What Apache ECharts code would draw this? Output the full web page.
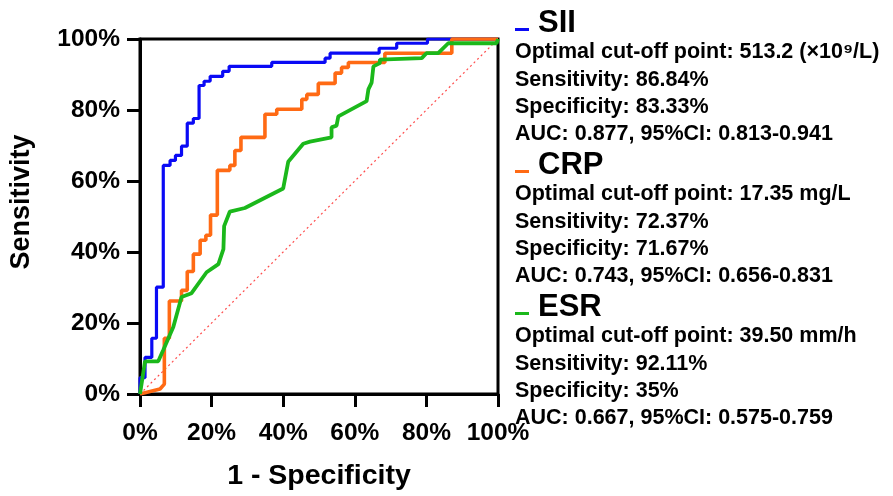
<!DOCTYPE html>
<html>
<head>
<meta charset="utf-8">
<script src="https://cdn.jsdelivr.net/npm/echarts@6/dist/echarts.min.js"></script>
<style>
  html, body { margin: 0; padding: 0; background: #fff; }
  #chart { width: 893px; height: 496px; }
</style>
</head>
<body>
<div id="chart"></div>
<script>
// ROC 曲线数据: [1 - 特异度(%), 灵敏度(%)]
const siiPts = [[0,0],[0,4.6],[1.4,4.6],[1.4,10.3],[3.3,10.3],[3.3,15.7],[4.6,15.7],[4.6,30.1],[6.5,30.1],[6.5,64.4],[8.4,64.4],[8.4,65.8],[9.9,65.8],[9.9,67.2],[11.6,67.2],[11.6,69.8],[13.2,69.8],[13.2,76.3],[14.9,76.3],[14.9,77.6],[16.5,77.6],[16.5,86.9],[17.9,86.9],[17.9,88.1],[19.6,88.1],[19.6,89.5],[23.1,89.5],[23.1,90.9],[24.9,90.9],[24.9,92.3],[36.8,92.3],[36.8,93.4],[51.7,93.4],[51.7,94.6],[53.1,94.6],[53.1,96],[66.8,96],[66.8,97.4],[71.7,97.4],[71.7,98.8],[80.3,98.8],[80.3,100],[100,100]];
const crpPts = [[0,0],[5.6,1.4],[6.8,2.8],[6.8,15.7],[8.2,15.7],[8.2,26.2],[11.6,26.2],[11.6,29.2],[13.2,29.2],[13.2,34.5],[14.9,34.5],[14.9,39.4],[16.8,39.4],[16.8,43.3],[18.4,43.3],[18.4,44.7],[19.7,44.7],[19.7,50.4],[21.6,50.4],[21.6,63],[25.1,63],[25.1,64.4],[26.5,64.4],[26.5,68.6],[28.2,68.6],[28.2,72.3],[34.9,72.3],[34.9,78.8],[38.2,78.8],[38.2,80.2],[45.2,80.2],[45.2,83],[46.6,83],[46.6,84.4],[49.8,84.4],[49.8,87.5],[54.5,87.5],[54.5,90.4],[56.3,90.4],[56.3,92],[58.2,92],[58.2,93.4],[68.4,93.4],[68.4,96],[87.1,96],[87.1,100],[100,100]];
const esrPts = [[0,0],[1.4,9.2],[5.1,9.2],[6.5,12.4],[9.3,18.9],[11.6,27.3],[14.4,28.4],[18.6,34.3],[21.9,36.6],[23.3,40.8],[23.5,47.3],[25.1,51.4],[29.3,52.4],[40,57.9],[41.4,65.4],[45.6,70.5],[47.5,71.1],[53.5,72.3],[53.5,75.1],[54.9,75.6],[55.4,78.2],[63.3,82.5],[63.8,85.8],[64.7,87.7],[65.2,92.3],[67,93.2],[67,94.2],[78.7,94.6],[80,96],[83.3,96],[86.1,98.8],[99.6,98.8],[100,100]];
const refPts = [[0,0],[100,100]];

// 坐标轴刻度
const axisTicks = [0, 20, 40, 60, 80, 100];

// 右侧说明文字
const siiNotes = ['Optimal cut-off point: 513.2 (×10⁹/L)', 'Sensitivity: 86.84%', 'Specificity: 83.33%', 'AUC: 0.877, 95%CI: 0.813-0.941'];
const crpNotes = ['Optimal cut-off point: 17.35 mg/L', 'Sensitivity: 72.37%', 'Specificity: 71.67%', 'AUC: 0.743, 95%CI: 0.656-0.831'];
const esrNotes = ['Optimal cut-off point: 39.50 mm/h', 'Sensitivity: 92.11%', 'Specificity: 35%', 'AUC: 0.667, 95%CI: 0.575-0.759'];

const FONT = '"Liberation Sans", Arial, sans-serif';
const colors = { sii: '#0a0af5', crp: '#ff6a14', esr: '#1bb81b' };

/* 生成右侧一组说明 */
function noteBlock(title, color, notes, top) {
    const items = [
        {
            type: 'rect',
            shape: { x: 515, y: top + 5, width: 14, height: 3 },
            style: { fill: color }
        },
        {
            type: 'text',
            style: {
                x: 538, y: top, text: title, fill: '#000',
                font: 'bold 31px ' + FONT, verticalAlign: 'middle'
            }
        }
    ];
    const lineY = [29, 57, 84, 111];
    notes.forEach((t, i) => {
        items.push({
            type: 'text',
            style: {
                x: 515, y: top + lineY[i], text: t, fill: '#000',
                font: 'bold 21.5px ' + FONT, verticalAlign: 'middle'
            }
        });
    });
    return items;
}

const chartDom = document.getElementById('chart');
const chartObj = echarts.init(chartDom, null, { renderer: 'canvas' });

const axisCommon = {
    type: 'value',
    min: axisTicks[0],
    max: axisTicks[axisTicks.length - 1],
    interval: 20,
    splitLine: { show: false },
    axisLine: { show: true, onZero: false, lineStyle: { color: '#000', width: 3 } },
    axisTick: { show: true, length: 13, lineStyle: { color: '#000', width: 3 } },
    axisLabel: {
        color: '#000',
        fontFamily: FONT,
        fontWeight: 'bold',
        fontSize: 24.5,
        formatter: '{value}%'
    }
};

const option = {
    animation: false,
    backgroundColor: '#fff',
    grid: {
        left: 140,
        right: 395,
        top: 39,
        bottom: 98,
        show: true,
        borderColor: '#000',
        borderWidth: 3,
        backgroundColor: 'transparent'
    },
    xAxis: Object.assign({}, axisCommon, {
        axisLabel: Object.assign({}, axisCommon.axisLabel, { margin: 27 }),
        name: '1 - Specificity',
        nameLocation: 'middle',
        nameGap: 68,
        nameTextStyle: { color: '#000', fontFamily: FONT, fontWeight: 'bold', fontSize: 28.5 }
    }),
    yAxis: Object.assign({}, axisCommon, {
        axisLabel: Object.assign({}, axisCommon.axisLabel, { margin: 20 })
    }),
    series: [
        {
            type: 'line', data: refPts, showSymbol: false, silent: true,
            lineStyle: { color: '#ff4d4d', width: 1.2, type: [2, 3] }, z: 1
        },
        {
            name: 'SII', type: 'line', data: siiPts, showSymbol: false,
            lineStyle: { color: colors.sii, width: 3.2 }, z: 2
        },
        {
            name: 'CRP', type: 'line', data: crpPts, showSymbol: false,
            lineStyle: { color: colors.crp, width: 3.6 }, z: 3
        },
        {
            name: 'ESR', type: 'line', data: esrPts, showSymbol: false,
            lineStyle: { color: colors.esr, width: 3.8 }, z: 4
        }
    ],
    graphic: [
        {
            type: 'text',
            rotation: Math.PI / 2,
            x: 22, y: 202,
            style: {
                text: 'Sensitivity', fill: '#000',
                font: 'bold 27px ' + FONT, align: 'center', verticalAlign: 'middle'
            }
        }
    ]
        .concat(noteBlock('SII', colors.sii, siiNotes, 23))
        .concat(noteBlock('CRP', colors.crp, crpNotes, 165))
        .concat(noteBlock('ESR', colors.esr, esrNotes, 307))
};

chartObj.setOption(option);
</script>
</body>
</html>
